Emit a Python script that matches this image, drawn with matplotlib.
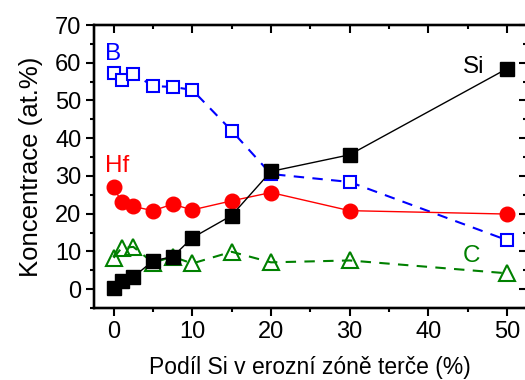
import matplotlib.pyplot as plt
from matplotlib.ticker import MultipleLocator

plt.rcParams['font.family'] = ['Liberation Sans', 'DejaVu Sans']

# podil Si v erozni zone terce (%)
podil = [0, 1, 2.5, 5, 7.5, 10, 15, 20, 30, 50]

si = [0.2, 2.1, 3.2, 7.5, 8.6, 13.6, 19.5, 31.2, 35.6, 58.4]
b = [57.3, 55.4, 57.1, 53.8, 53.6, 52.8, 42.0, 30.5, 28.4, 13.0]
hf = [27.0, 23.1, 21.9, 20.8, 22.5, 21.0, 23.4, 25.6, 20.8, 19.9]
c = [8.3, 10.9, 11.2, 7.0, 8.6, 6.8, 9.9, 7.1, 7.6, 4.2]

fig = plt.figure(figsize=(5.25, 3.8), dpi=100)
ax = fig.add_axes([94 / 525, 1 - 308 / 380, 432.5 / 525, 283 / 380])

ax.plot(podil, b, color='blue', ls=(0, (5, 4)), lw=1.5, marker='s', ms=8.5,
        mfc='white', mec='blue', mew=1.5, zorder=3)
ax.plot(podil, c, color='green', ls=(0, (5, 4)), lw=1.5, marker='^', ms=11,
        mfc='none', mec='green', mew=1.5, zorder=3)
ax.plot(podil, hf, color='red', ls='-', lw=1, marker='o', ms=10.5,
        mfc='red', mec='red', zorder=4)
ax.plot(podil, si, color='black', ls='-', lw=1, marker='s', ms=9.5,
        mfc='black', mec='black', zorder=5)

ax.text(-1.1, 62.4, 'B', color='blue', fontsize=17.5, ha='left', va='center')
ax.text(-1.1, 32.5, 'Hf', color='red', fontsize=17.5, ha='left', va='center')
ax.text(47.1, 58.8, 'Si', color='black', fontsize=17.5, ha='right', va='center')
ax.text(46.6, 8.8, 'C', color='green', fontsize=17.5, ha='right', va='center')

ax.set_xlim(-2.5, 52.5)
ax.set_ylim(-5, 70)
ax.xaxis.set_major_locator(MultipleLocator(10))
ax.xaxis.set_minor_locator(MultipleLocator(5))
ax.yaxis.set_major_locator(MultipleLocator(10))
ax.yaxis.set_minor_locator(MultipleLocator(5))

for s in ax.spines.values():
    s.set_linewidth(1.6)

ax.tick_params(which='major', direction='out', length=6, width=1.5,
               labelsize=17, pad=3)
ax.tick_params(which='minor', direction='out', length=3, width=1.5)

# inward ticks on top and right
tx = ax.twiny()
tx.set_xlim(ax.get_xlim())
tx.xaxis.set_major_locator(MultipleLocator(10))
tx.xaxis.set_minor_locator(MultipleLocator(5))
tx.tick_params(which='major', direction='in', length=6, width=1.5, labeltop=False)
tx.tick_params(which='minor', direction='in', length=3, width=1.5)
ty = ax.twinx()
ty.set_ylim(ax.get_ylim())
ty.yaxis.set_major_locator(MultipleLocator(10))
ty.yaxis.set_minor_locator(MultipleLocator(5))
ty.tick_params(which='major', direction='in', length=6, width=1.5, labelright=False)
ty.tick_params(which='minor', direction='in', length=3, width=1.5)
for t in (tx, ty):
    for s in t.spines.values():
        s.set_linewidth(1.6)

ax.set_xlabel('Podíl Si v erozní zóně terče (%)', fontsize=16.5, labelpad=10)
ax.set_ylabel('Koncentrace (at.%)', fontsize=18.5, labelpad=9)

fig.savefig('out.png', dpi=100)
